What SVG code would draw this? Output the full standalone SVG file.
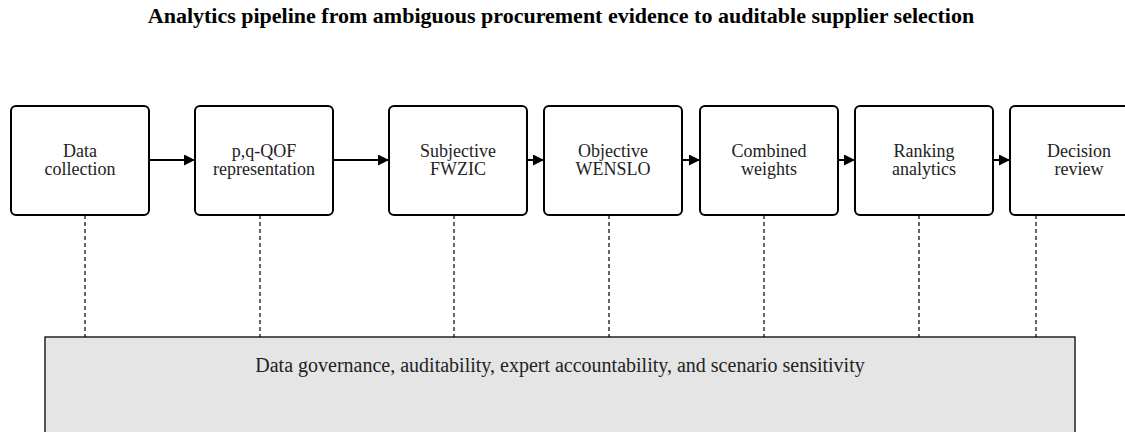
<svg xmlns="http://www.w3.org/2000/svg" width="1125" height="432" viewBox="0 0 1125 432">
  <style>
    .title { font-family: "Liberation Serif", "Times New Roman", serif; font-size: 22px; font-weight: bold; fill: #000; }
    .node rect { fill: #fff; stroke: #000; stroke-width: 2; }
    .node text { font-family: "Liberation Serif", "Times New Roman", serif; font-size: 18px; fill: #222; text-anchor: middle; }
    .flow { stroke: #000; stroke-width: 2; fill: none; }
    .link { stroke: #000; stroke-width: 1.2; stroke-dasharray: 4 3; fill: none; }
    .band rect { fill: #e5e5e5; stroke: #222; stroke-width: 1.5; }
    .band text { font-family: "Liberation Serif", "Times New Roman", serif; font-size: 20px; fill: #222; text-anchor: middle; }
  </style>
  <defs>
    <marker id="arrow" viewBox="0 0 10 10" refX="10" refY="5" markerWidth="5.5" markerHeight="5.5" orient="auto" markerUnits="strokeWidth">
      <path d="M0,0 L10,5 L0,10 Z" fill="#000"/>
    </marker>
  </defs>
  <rect width="1125" height="432" fill="#fff"/>

  <text class="title" x="561" y="23" text-anchor="middle">Analytics pipeline from ambiguous procurement evidence to auditable supplier selection</text>

  <!-- governance band underneath the pipeline -->
  <g id="governance" class="band">
    <rect x="45" y="337" width="1030" height="110"/>
    <text x="560" y="372">Data governance, auditability, expert accountability, and scenario sensitivity</text>
  </g>

  <g id="connectors">
    <line class="flow" x1="149" y1="160" x2="195" y2="160" marker-end="url(#arrow)"/>
    <line class="flow" x1="333" y1="160" x2="389" y2="160" marker-end="url(#arrow)"/>
    <line class="flow" x1="527" y1="160" x2="544" y2="160" marker-end="url(#arrow)"/>
    <line class="flow" x1="682" y1="160" x2="700" y2="160" marker-end="url(#arrow)"/>
    <line class="flow" x1="838" y1="160" x2="855" y2="160" marker-end="url(#arrow)"/>
    <line class="flow" x1="993" y1="160" x2="1010" y2="160" marker-end="url(#arrow)"/>
    <line class="link" x1="85" y1="215" x2="85" y2="337"/>
    <line class="link" x1="260" y1="215" x2="260" y2="337"/>
    <line class="link" x1="454" y1="215" x2="454" y2="337"/>
    <line class="link" x1="609" y1="215" x2="609" y2="337"/>
    <line class="link" x1="764" y1="215" x2="764" y2="337"/>
    <line class="link" x1="919" y1="215" x2="919" y2="337"/>
    <line class="link" x1="1036" y1="215" x2="1036" y2="337"/>
  </g>

  <g id="data-collection" class="node">
    <rect x="11" y="106" width="138" height="109" rx="5"/>
    <text x="80" y="157">Data</text>
    <text x="80" y="175">collection</text>
  </g>
  <g id="pq-qof" class="node">
    <rect x="195" y="106" width="138" height="109" rx="5"/>
    <text x="264" y="157">p,q-QOF</text>
    <text x="264" y="175">representation</text>
  </g>
  <g id="fwzic" class="node">
    <rect x="389" y="106" width="138" height="109" rx="5"/>
    <text x="458" y="157">Subjective</text>
    <text x="458" y="175">FWZIC</text>
  </g>
  <g id="wenslo" class="node">
    <rect x="544" y="106" width="138" height="109" rx="5"/>
    <text x="613" y="157">Objective</text>
    <text x="613" y="175">WENSLO</text>
  </g>
  <g id="combined" class="node">
    <rect x="700" y="106" width="138" height="109" rx="5"/>
    <text x="769" y="157">Combined</text>
    <text x="769" y="175">weights</text>
  </g>
  <g id="ranking" class="node">
    <rect x="855" y="106" width="138" height="109" rx="5"/>
    <text x="924" y="157">Ranking</text>
    <text x="924" y="175">analytics</text>
  </g>
  <g id="decision" class="node">
    <rect x="1010" y="106" width="138" height="109" rx="5"/>
    <text x="1079" y="157">Decision</text>
    <text x="1079" y="175">review</text>
  </g>
</svg>
